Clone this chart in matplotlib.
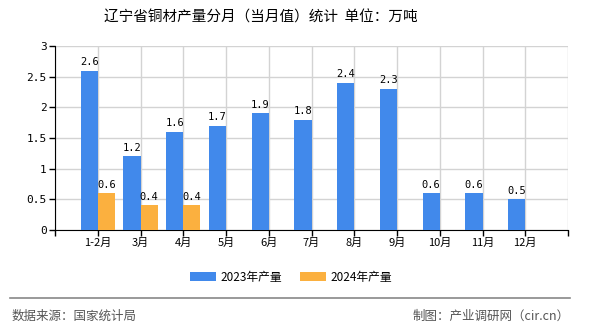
import numpy as np
import matplotlib.pyplot as plt

plt.rcParams['font.family'] = ['Noto Sans CJK SC', 'DejaVu Sans']

months = ['1-2月', '3月', '4月', '5月', '6月', '7月', '8月', '9月', '10月', '11月', '12月']
y2023 = [2.6, 1.2, 1.6, 1.7, 1.9, 1.8, 2.4, 2.3, 0.6, 0.6, 0.5]
y2024 = [0.6, 0.4, 0.4]

blue = '#4189eb'
orange = '#fbb03f'

fig = plt.figure(figsize=(5.9, 3.3), dpi=100)
ax = fig.add_axes([55/590, 1-230/330, (568-55)/590, (230-46)/330])

x = np.arange(len(months))
w = 0.4
b1 = ax.bar(x - w/2, y2023, w, color=blue, zorder=3, label='2023年产量')
x2 = np.arange(len(y2024))
b2 = ax.bar(x2 + w/2, y2024, w, color=orange, zorder=3, label='2024年产量')

for xi, v in zip(x - w/2, y2023):
    ax.text(xi, v + 0.06, f'{v:.1f}', ha='center', va='bottom', fontsize=7.5,
            family='DejaVu Sans Mono', zorder=4)
for xi, v in zip(x2 + w/2, y2024):
    ax.text(xi, v + 0.06, f'{v:.1f}', ha='center', va='bottom', fontsize=7.5,
            family='DejaVu Sans Mono', zorder=4)

ax.set_xlim(-1, 11)
ax.set_ylim(0, 3)
ax.set_yticks(np.arange(0, 3.01, 0.5))
ax.set_yticklabels(['0', '0.5', '1', '1.5', '2', '2.5', '3'], family='DejaVu Sans Mono', fontsize=8)
ax.set_xticks(np.arange(-1, 12))
ax.set_xticklabels([''] + months + [''], fontsize=8)
ax.tick_params(length=4, width=1, color='black', pad=2)
ax.grid(True, color='#d3d3d3', linewidth=1, zorder=0)
for s in ['top', 'right']:
    ax.spines[s].set_visible(False)
for s in ['left', 'bottom']:
    ax.spines[s].set_color('black')

fig.text(261/590, 1-18/330, '辽宁省铜材产量分月（当月值）统计  单位：万吨', ha='center', va='center', fontsize=10.5)

fig.legend(handles=[b1, b2], loc='center', bbox_to_anchor=(291/590, 1-277/330), ncol=2,
           frameon=False, fontsize=8.5, handlelength=2.2, handleheight=0.9, columnspacing=1.5,
           handletextpad=0.4)

fig.add_artist(plt.Line2D([10/590, 570/590], [1-298/330, 1-298/330], color='#888888', linewidth=1.2))
fig.text(12/590, 1-316/330, '数据来源：国家统计局', ha='left', va='center', fontsize=9, color='#555555')
fig.text(570/590, 1-316/330, '制图：产业调研网（cir.cn）', ha='right', va='center', fontsize=9, color='#555555')

fig.savefig('out.png', dpi=100)
